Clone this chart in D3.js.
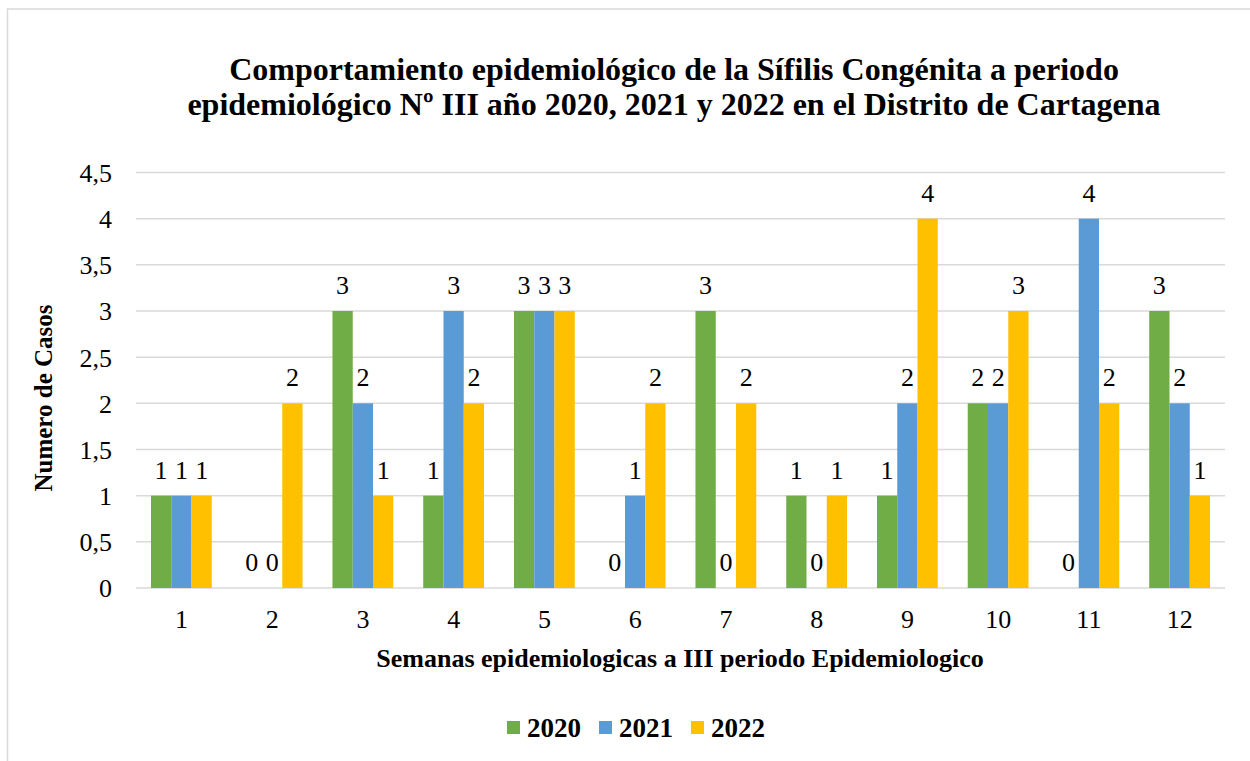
<!DOCTYPE html>
<html><head><meta charset="utf-8">
<script src="https://cdn.jsdelivr.net/npm/d3@7"></script>
<style>body{margin:0;background:#fff}svg{display:block}</style>
</head><body>
<svg id="c" width="1250" height="761"></svg>
<script>
const weeks = ["1","2","3","4","5","6","7","8","9","10","11","12"];
const seriesNames = ["2020","2021","2022"];
const s2020 = [1,0,3,1,3,0,3,1,1,2,0,3];
const s2021 = [1,0,2,3,3,1,0,0,2,2,4,2];
const s2022 = [1,2,1,2,3,2,2,1,4,3,2,1];
const colors = ["#70AD47","#5B9BD5","#FFC000"];
const yTicks = [0,0.5,1,1.5,2,2.5,3,3.5,4,4.5];
const titleLines = ["Comportamiento epidemiológico de la Sífilis Congénita a periodo","epidemiológico Nº III año 2020, 2021 y 2022 en el Distrito de Cartagena"];
const xTitle = "Semanas epidemiologicas a III periodo Epidemiologico";
const yTitle = "Numero de Casos";

const values = [s2020, s2021, s2022];
const svg = d3.select("#c");
const font = "Liberation Serif, Times New Roman, serif";

svg.append("rect").attr("x",7.5).attr("y",9).attr("width",1300).attr("height",800)
  .attr("fill","#fff").attr("stroke","#d9d9d9").attr("stroke-width",1.5);

const x0 = d3.scaleBand().domain(weeks).range([136,1225]).paddingInner(0.33).paddingOuter(0.165);
const x1 = d3.scaleBand().domain(seriesNames).range([0,x0.bandwidth()]);
const y = d3.scaleLinear().domain([0,4.5]).range([588,172.5]);

// gridlines
svg.append("g").selectAll("line").data(yTicks).join("line")
  .attr("x1",136).attr("x2",1225).attr("y1",d=>y(d)).attr("y2",d=>y(d))
  .attr("stroke","#d9d9d9").attr("stroke-width",1.5);

// y axis labels
const yAxis = d3.axisLeft(y).tickValues(yTicks).tickSize(0).tickPadding(0)
  .tickFormat(d=>String(d).replace(".",","));
const gy = svg.append("g").attr("transform","translate(112,0)").call(yAxis)
  .attr("font-family",font).attr("font-size",26);
gy.select(".domain").remove();
gy.selectAll("text").attr("fill","#000").attr("dy","0.34em");

// x axis labels
const xAxis = d3.axisBottom(x0).tickSize(0).tickPadding(0);
const gx = svg.append("g").attr("transform","translate(0,610)").call(xAxis)
  .attr("font-family",font).attr("font-size",26);
gx.select(".domain").remove();
gx.selectAll("text").attr("fill","#000").attr("dy","0.71em");

// bars
const data = [];
weeks.forEach((w,i)=>seriesNames.forEach((s,j)=>data.push({w,s,j,v:values[j][i]})));
svg.append("g").selectAll("rect").data(data).join("rect")
  .attr("x",d=>x0(d.w)+x1(d.s)).attr("width",x1.bandwidth())
  .attr("y",d=>y(d.v)).attr("height",d=>y(0)-y(d.v))
  .attr("fill",d=>colors[d.j]);

// data labels
svg.append("g").attr("font-family",font).attr("font-size",26).selectAll("text").data(data).join("text")
  .attr("x",d=>x0(d.w)+x1(d.s)+x1.bandwidth()/2).attr("y",d=>y(d.v)-17)
  .attr("text-anchor","middle").attr("fill","#000")
  .text(d=>d.v);

// title
svg.append("g").attr("font-family",font).attr("font-size",32).attr("font-weight","bold")
  .selectAll("text").data(titleLines).join("text")
  .attr("x",674).attr("y",(d,i)=>80+i*35).attr("text-anchor","middle").text(d=>d);

// axis titles
svg.append("text").attr("x",680).attr("y",667).attr("text-anchor","middle")
  .attr("font-family",font).attr("font-size",26).attr("font-weight","bold").text(xTitle);
svg.append("text").attr("transform","translate(52,398) rotate(-90)").attr("text-anchor","middle")
  .attr("font-family",font).attr("font-size",25).attr("font-weight","bold").text(yTitle);

// legend
const legX = [507,599,691];
const lg = svg.append("g").selectAll("g").data(seriesNames).join("g")
  .attr("transform",(d,i)=>`translate(${legX[i]},721)`);
lg.append("rect").attr("width",13).attr("height",13).attr("fill",(d,i)=>colors[i]);
lg.append("text").attr("x",20).attr("y",16).attr("font-family",font).attr("font-size",27)
  .attr("font-weight","bold").text(d=>d);
</script>
</body></html>
